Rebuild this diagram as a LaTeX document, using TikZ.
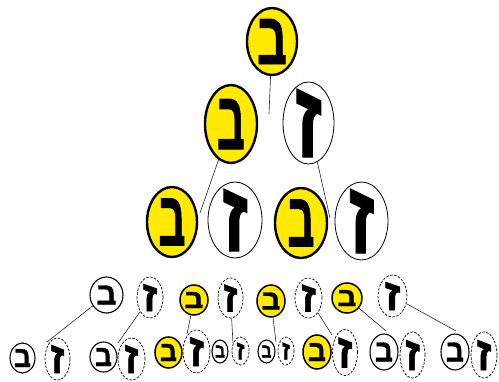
\documentclass[tikz,border=0pt]{standalone}
\usepackage{fontspec}
\usepackage{graphicx}
\usepackage{tikz}
\usetikzlibrary{shapes.geometric}
\TeXXeTstate=1
\newfontfamily\hebfont[Script=Hebrew,FakeBold=1.2]{Liberation Sans Bold}
\definecolor{hyellow}{HTML}{FFEA00}
\newcommand{\letr}[3]{\makebox[0pt]{\raisebox{-.5\height}[0pt][0pt]{\resizebox{#2pt}{#3pt}{\hebfont\beginR#1\endR}}}}
\newcommand{\bet}[2]{\letr{ב}{#1}{#2}}
\newcommand{\zay}[2]{\letr{ז}{#1}{#2}}

\begin{document}
\begin{tikzpicture}[x=1pt,y=-1pt,
  egg/.style={ellipse,inner sep=0pt,draw=black},
  sz/.style 2 args={minimum width=#1pt,minimum height=#2pt},
  yel/.style={egg,fill=hyellow,line width=2.4pt},
  smyel/.style={egg,fill=hyellow,line width=1.5pt},
  wht/.style={egg,fill=white,line width=0.8pt},
  smwht/.style={egg,fill=white,line width=1.1pt},
  dsh/.style={egg,fill=white,line width=0.7pt,dash pattern=on 2.5pt off 1.5pt},
  link/.style={draw=black!85,line width=0.6pt}]
  \useasboundingbox (0,0) rectangle (499,381);
  % top
  \node[yel,sz={50}{67}] (r) at (272,41.5) {\bet{30}{45}};
  % second row
  \node[yel,sz={52}{78}] (b1) at (231,124) {\bet{28}{50}};
  \node[wht,sz={51}{82}] (z1) at (308.5,123) {\zay{27}{68}};
  % third row
  \node[yel,sz={50}{70}] (b2a) at (172,222) {\bet{27}{47}};
  \node[wht,sz={54}{76}] (z2a) at (235,220) {\zay{26}{62}};
  \node[yel,sz={52}{70}] (b2b) at (301,223) {\bet{27}{47}};
  \node[wht,sz={53}{78}] (z2b) at (361.5,221) {\zay{26}{64}};
  % fourth row
  \node[smwht,sz={33}{36}] (b3a) at (106.5,295) {\bet{20}{19}};
  \node[dsh,sz={26}{41}] (z3a) at (150,297.5) {\zay{15}{27}};
  \node[smyel,sz={28}{30}] (b3b) at (194,300) {\bet{19}{16}};
  \node[dsh,sz={25}{40}] (z3b) at (230.5,298) {\zay{14}{27}};
  \node[smyel,sz={28}{32}] (b3c) at (271,301) {\bet{19}{17}};
  \node[dsh,sz={27}{40}] (z3c) at (308.5,298) {\zay{15}{27}};
  \node[smyel,sz={30}{30}] (b3d) at (347,298) {\bet{19}{16}};
  \node[dsh,sz={29}{42}] (z3d) at (392.5,296) {\zay{16}{28}};
  % bottom row
  \node[smwht,sz={25}{30}] (b4a) at (22.5,358) {\bet{17}{18}};
  \node[dsh,sz={25}{42}] (z4a) at (57.5,359) {\zay{14}{28}};
  \node[smwht,sz={27}{30}] (b4b) at (103.5,357) {\bet{17}{18}};
  \node[dsh,sz={27}{42}] (z4b) at (131.5,359) {\zay{14}{28}};
  \node[smyel,sz={27}{31}] (b4c) at (168.5,352.5) {\bet{17}{17}};
  \node[dsh,sz={27}{43}] (z4c) at (196.5,351.5) {\zay{15}{29}};
  \node[smwht,sz={16}{23}] (b4d) at (220,351.5) {\bet{10}{12}};
  \node[dsh,sz={17}{28}] (z4d) at (240.5,351) {\zay{8}{17}};
  \node[smwht,sz={17}{23}] (b4e) at (266.5,351.5) {\bet{10}{12}};
  \node[dsh,sz={16}{28}] (z4e) at (286,351) {\zay{8}{17}};
  \node[smyel,sz={28}{34}] (b4f) at (317,352) {\bet{18}{18}};
  \node[dsh,sz={25}{46}] (z4f) at (345,352.5) {\zay{15}{30}};
  \node[smwht,sz={28}{36}] (b4g) at (384,352) {\bet{18}{19}};
  \node[dsh,sz={25}{46}] (z4g) at (412.5,355) {\zay{15}{30}};
  \node[smwht,sz={28}{36}] (b4h) at (455,352) {\bet{18}{19}};
  \node[dsh,sz={26}{46}] (z4h) at (484,355) {\zay{15}{30}};
  % free line ends
  \coordinate (e0) at (269,114);
  \coordinate (e1) at (200,213);
  \coordinate (e2) at (330,218);
  \coordinate (e3a) at (47,342);
  \coordinate (e3b) at (118,343);
  \coordinate (e3c) at (187,334);
  \coordinate (e3d) at (233,343);
  \coordinate (e3e) at (276,342);
  \coordinate (e3f) at (332,335);
  \coordinate (e3g) at (386,331);
  \coordinate (e3h) at (456,331);
  \foreach \x/\y in {r/e0,b1/e1,z1/e2,b3a/e3a,z3a/e3b,b3b/e3c,z3b/e3d,b3c/e3e,z3c/e3f,b3d/e3g,z3d/e3h}
    \draw[link] (\x) -- (\y);
\end{tikzpicture}
\end{document}
